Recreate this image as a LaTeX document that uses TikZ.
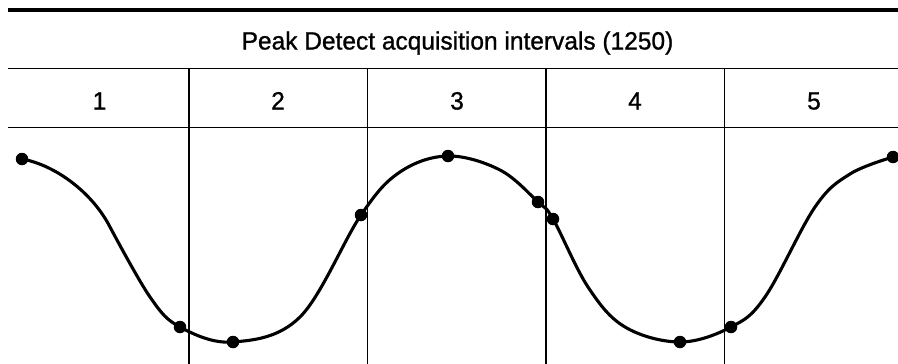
\documentclass[tikz,border=0pt]{standalone}
\usepackage{fontspec}
\setmainfont{Liberation Sans}[FakeStretch=0.98,FakeBold=1]
\begin{document}
\begin{tikzpicture}[x=1pt,y=-1pt,
  lbl/.style={font=\fontsize{25}{27}\selectfont, inner sep=0pt, anchor=base},
  grid/.style={line width=1.3pt, black},
  dot/.style={circle, fill=black, inner sep=0pt, minimum size=12.5pt},
  wave/.style={line width=3.1pt, line join=round, line cap=round}]
\useasboundingbox (0,0) rectangle (898,364);
% frame lines
\draw[line width=3.6pt] (8,10) -- (898,10);
\draw[grid] (8,68.5) -- (898,68.5);
\draw[grid] (8,127.5) -- (898,127.5);
\foreach \x/\n in {189/a,367.5/b,546/c,724.5/d} {
  \coordinate (t\n) at (\x,68.5);
  \coordinate (b\n) at (\x,364);
  \draw[grid] (t\n) -- (b\n);
}
% labels
\node[lbl] (title) at (457.5,49.5) {Peak Detect acquisition intervals (1250)};
\node[lbl] (n1) at (99.5,109.5) {1};
\node[lbl] (n2) at (278,109.5) {2};
\node[lbl] (n3) at (457,109.5) {3};
\node[lbl] (n4) at (635,109.5) {4};
\node[lbl] (n5) at (814,109.5) {5};
% waveform
\draw[wave] (22,159) .. controls (55,165) and (92,192) .. (110,227)
 plot[smooth, tension=0.6] coordinates {
 (110,227) (150,297) (180,327) (233,342) (300,317) (361,215)
 (400,172) (448,156) (500,170) (538,202) (553,219) (588,287) (625,327) (680,342)
 (731,327) (765,297) (815,207) (850,174) (893,157)};
% samples
\node[dot] (s1) at (22,159) {};
\node[dot] (s2) at (180,327) {};
\node[dot] (s3) at (233,342) {};
\node[dot] (s4) at (361,215) {};
\node[dot] (s5) at (448,156) {};
\node[dot] (s6) at (538,202) {};
\node[dot] (s7) at (553,219) {};
\node[dot] (s8) at (680,342) {};
\node[dot] (s9) at (731,327) {};
\node[dot] (s10) at (893,157) {};
\end{tikzpicture}
\end{document}
